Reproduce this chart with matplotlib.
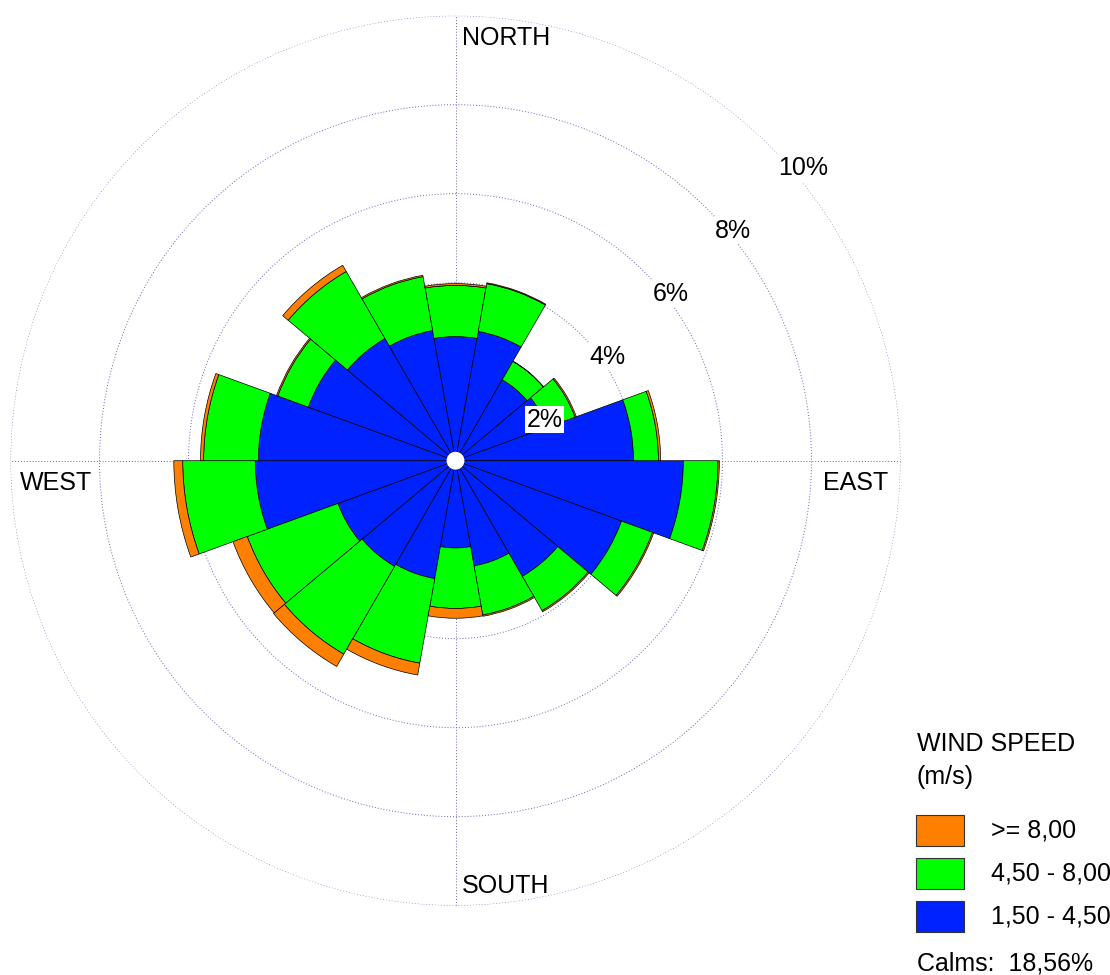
import numpy as np
import matplotlib.pyplot as plt
from matplotlib.patches import Rectangle

plt.rcParams['font.family'] = ['Liberation Sans', 'DejaVu Sans']

# wind directions (deg, clockwise from north), 18 sectors of 20 deg
directions = np.arange(0, 360, 20)
# frequency (%) per speed class
blue = [2.79, 2.95, 2.10, 2.20, 4.00, 5.12, 3.97, 3.00, 2.40,
        1.96, 2.69, 2.74, 2.81, 4.50, 4.43, 3.52, 3.17, 2.97]
green = [1.15, 1.09, 0.48, 0.66, 0.56, 0.78, 0.74, 0.89, 1.12,
         1.36, 1.93, 2.28, 2.17, 1.63, 1.23, 0.73, 1.74, 1.23]
orange = [0.04, 0.02, 0.00, 0.03, 0.05, 0.03, 0.03, 0.03, 0.03,
          0.22, 0.27, 0.32, 0.34, 0.20, 0.07, 0.03, 0.16, 0.03]
rings = [2, 4, 6, 8, 10]
ring_labels = ['2%', '4%', '6%', '8%', '10%']
legend_labels = ['>= 8,00', '4,50 - 8,00', '1,50 - 4,50']
calms = '18,56%'

c_orange, c_green, c_blue = '#ff8000', '#00ff00', '#0022ff'
grid_col = '#6464b8'
fs = 18

W, H = 1110, 975
fig = plt.figure(figsize=(W/100, H/100), dpi=100)
cx, cy, R = 455.5, 460.7, 445
ax = fig.add_axes([(cx-R)/W, (H-cy-R)/H, 2*R/W, 2*R/H], projection='polar')
ax.set_theta_zero_location('N')
ax.set_theta_direction(-1)

theta = np.deg2rad(directions)
wd = np.deg2rad(20)
b = np.array(blue)
g = np.array(green)
o = np.array(orange)
kw = dict(width=wd, edgecolor='black', linewidth=0.5)
ax.bar(theta, b, color=c_blue, **kw)
ax.bar(theta, g, bottom=b, color=c_green, **kw)
ax.bar(theta, o, bottom=b+g, color=c_orange, **kw)
# calm hole in the middle
ax.bar(0, 0.2, width=2*np.pi, color='white', linewidth=0, zorder=5)

ax.set_ylim(0, 10)
ax.set_rgrids(rings, labels=[])
ax.set_thetagrids([0, 90, 180, 270], labels=[])
ax.grid(color=grid_col, linestyle=(0, (1, 2)), linewidth=0.7)
ax.set_axisbelow(True)
ax.spines['polar'].set_visible(False)

for r, lab in zip(rings, ring_labels):
    ax.annotate(lab, xy=(np.deg2rad(45), r), xytext=(8, -10),
                textcoords='offset pixels', ha='left', va='top', fontsize=fs,
                bbox=dict(facecolor='white', edgecolor='none', pad=1), zorder=6)

def ftext(x, y, s, **k):
    fig.text(x/W, 1-y/H, s, fontsize=fs, va='center', **k)

ftext(462, 38, 'NORTH')
ftext(462, 886, 'SOUTH')
ftext(20, 483, 'WEST')
ftext(823, 483, 'EAST')

# legend
ftext(917, 744, 'WIND SPEED')
ftext(917, 777, '(m/s)')
for i, (lab, col) in enumerate(zip(legend_labels, [c_orange, c_green, c_blue])):
    yc = 830.5 + 43*i
    fig.add_artist(Rectangle((916/W, 1-(yc+15.5)/H), 48/W, 31/H,
                             transform=fig.transFigure, facecolor=col,
                             edgecolor='#333333', linewidth=0.8))
    ftext(991, yc, lab)
ftext(917, 963, 'Calms:  ' + calms)

fig.savefig('out.png', dpi=100)
